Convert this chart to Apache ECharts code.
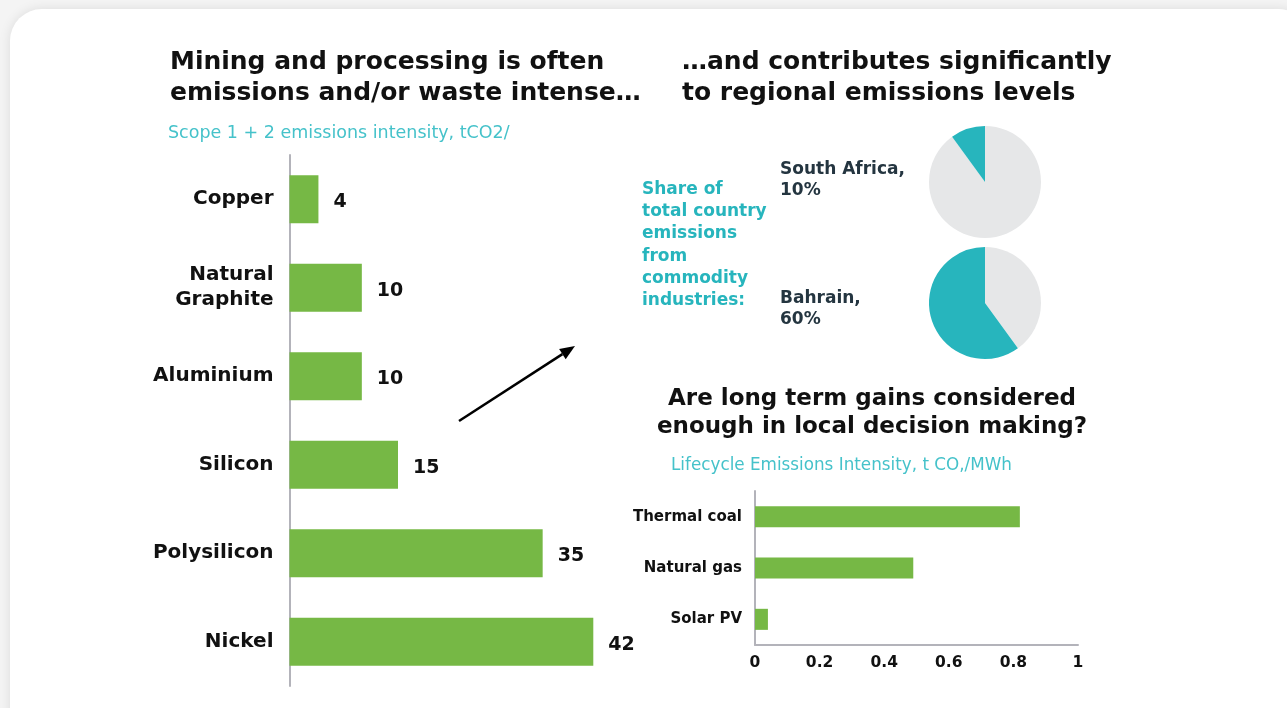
<!DOCTYPE html>
<html>
<head>
<meta charset="utf-8">
<script src="https://cdn.jsdelivr.net/npm/echarts@6/dist/echarts.min.js"></script>
<style>
  html, body { margin: 0; padding: 0; background: #f4f4f4; }
  #chart { width: 1287px; height: 708px; }
</style>
</head>
<body>
<div id="chart"></div>
<script>
// Scope 1 + 2 emissions intensity by commodity (tCO2 per tonne)
const commodities = ['Copper', 'Natural\nGraphite', 'Aluminium', 'Silicon', 'Polysilicon', 'Nickel'];
const commodityIntensity = [4, 10, 10, 15, 35, 42];

// Share of total country emissions from commodity industries (%)
const countries = ['South Africa', 'Bahrain'];
const countryShare = [10, 60];

// Lifecycle emissions intensity of power sources (t CO2 / MWh)
const powerSources = ['Thermal coal', 'Natural gas', 'Solar PV'];
const lifecycleIntensity = [0.82, 0.49, 0.04];
const lifecycleTicks = [0, 0.2, 0.4, 0.6, 0.8, 1];

const GREEN = '#76b845';
const TEAL = '#27b5bd';
const TEAL_LIGHT = '#45c2ca';
const PIE_GREY = '#e6e7e8';
const AXIS_GREY = '#b3b3ba';
const INK = '#111111';
const SLATE = '#243540';
const FONT = '"DejaVu Sans", "Open Sans", sans-serif';

const chart = echarts.init(document.getElementById('chart'), null, { renderer: 'canvas' });

function text(x, y, str, opts) {
  return {
    type: 'text',
    z: 10,
    style: Object.assign({
      x: x, y: y, text: str,
      fill: INK,
      fontFamily: FONT,
      fontWeight: 700,
      fontSize: 25,
      verticalAlign: 'middle',
      align: 'left'
    }, opts || {})
  };
}

function pieSeries(share, cy) {
  return {
    type: 'pie',
    center: [985, cy],
    radius: [0, 56],
    startAngle: 90,
    clockwise: true,
    silent: true,
    label: { show: false },
    labelLine: { show: false },
    emphasis: { disabled: true },
    data: [
      { value: 100 - share, itemStyle: { color: PIE_GREY } },
      { value: share, itemStyle: { color: TEAL } }
    ]
  };
}

// arrow from the left panel pointing towards the country shares
const arrowFrom = [459, 421], arrowTo = [575, 346];
const adx = arrowTo[0] - arrowFrom[0], ady = arrowTo[1] - arrowFrom[1];
const alen = Math.hypot(adx, ady);
const ux = adx / alen, uy = ady / alen;
const headLen = 15, headHalf = 6;
const baseX = arrowTo[0] - ux * headLen, baseY = arrowTo[1] - uy * headLen;

const option = {
  backgroundColor: 'transparent',
  animation: false,
  graphic: [
    {
      type: 'rect', z: 0,
      shape: { x: 10, y: 9, width: 1300, height: 740, r: 32 },
      style: { fill: '#ffffff', shadowBlur: 12, shadowColor: 'rgba(0,0,0,0.10)' }
    },
    // left panel headings
    text(170, 62, 'Mining and processing is often'),
    text(170, 93, 'emissions and/or waste intense\u2026'),
    text(168, 133, 'Scope 1 + 2 emissions intensity, tCO2/', { fontWeight: 400, fontSize: 17.5, fill: TEAL_LIGHT }),
    // right panel headings
    text(682, 62, '\u2026and contributes significantly'),
    text(682, 93, 'to regional emissions levels'),
    text(642, 245, 'Share of\ntotal country\nemissions\nfrom\ncommodity\nindustries:', {
      fontSize: 17, fill: TEAL, lineHeight: 22.2
    }),
    text(780, 180, countries[0] + ',\n' + countryShare[0] + '%', { fontSize: 17, fill: SLATE, lineHeight: 21 }),
    text(780, 309, countries[1] + ',\n' + countryShare[1] + '%', { fontSize: 17, fill: SLATE, lineHeight: 21 }),
    text(872, 413, 'Are long term gains considered\nenough in local decision making?', {
      align: 'center', fontSize: 23, lineHeight: 28
    }),
    text(671, 466, 'Lifecycle Emissions Intensity, t CO,/MWh', { fontWeight: 400, fontSize: 16.8, fill: TEAL_LIGHT }),
    // arrow
    {
      type: 'line', z: 10,
      shape: { x1: arrowFrom[0], y1: arrowFrom[1], x2: baseX, y2: baseY },
      style: { stroke: '#000', lineWidth: 2.5 }
    },
    {
      type: 'polygon', z: 10,
      shape: {
        points: [
          arrowTo,
          [baseX - uy * headHalf, baseY + ux * headHalf],
          [baseX + uy * headHalf, baseY - ux * headHalf]
        ]
      },
      style: { fill: '#000' }
    }
  ],
  grid: [
    { left: 289.5, top: 155, width: 434, height: 531 },
    { left: 755, top: 491, width: 323, height: 154 }
  ],
  xAxis: [
    {
      gridIndex: 0, type: 'value', min: 0, max: 60,
      axisLine: { show: false }, axisTick: { show: false },
      axisLabel: { show: false }, splitLine: { show: false }
    },
    {
      gridIndex: 1, type: 'value', min: 0, max: 1, interval: 0.2,
      axisLine: { show: true, lineStyle: { color: AXIS_GREY, width: 2 } },
      axisTick: { show: false }, splitLine: { show: false },
      axisLabel: {
        margin: 10, color: INK, fontFamily: FONT, fontWeight: 700, fontSize: 15.5,
        formatter: v => String(parseFloat(v.toFixed(1)))
      }
    }
  ],
  yAxis: [
    {
      gridIndex: 0, type: 'category', data: commodities, inverse: true,
      axisLine: { show: true, lineStyle: { color: AXIS_GREY, width: 2 } },
      axisTick: { show: false },
      axisLabel: {
        margin: 16, color: INK, fontFamily: FONT, fontWeight: 700, fontSize: 20,
        lineHeight: 25, align: 'right', padding: [6, 0, 0, 0]
      }
    },
    {
      gridIndex: 1, type: 'category', data: powerSources, inverse: true,
      axisLine: { show: true, lineStyle: { color: AXIS_GREY, width: 2 } },
      axisTick: { show: false },
      axisLabel: { margin: 13, color: INK, fontFamily: FONT, fontWeight: 700, fontSize: 15, padding: [3, 0, 0, 0] }
    }
  ],
  series: [
    {
      type: 'bar', xAxisIndex: 0, yAxisIndex: 0,
      data: commodityIntensity,
      barWidth: '54%',
      itemStyle: { color: GREEN },
      silent: true,
      label: {
        show: true, position: 'right', distance: 15, offset: [0, 3],
        color: INK, fontFamily: FONT, fontWeight: 700, fontSize: 19
      }
    },
    {
      type: 'bar', xAxisIndex: 1, yAxisIndex: 1,
      data: lifecycleIntensity,
      barWidth: '41%',
      itemStyle: { color: GREEN },
      silent: true
    },
    pieSeries(countryShare[0], 182),
    pieSeries(countryShare[1], 303)
  ]
};

chart.setOption(option);
</script>
</body>
</html>
